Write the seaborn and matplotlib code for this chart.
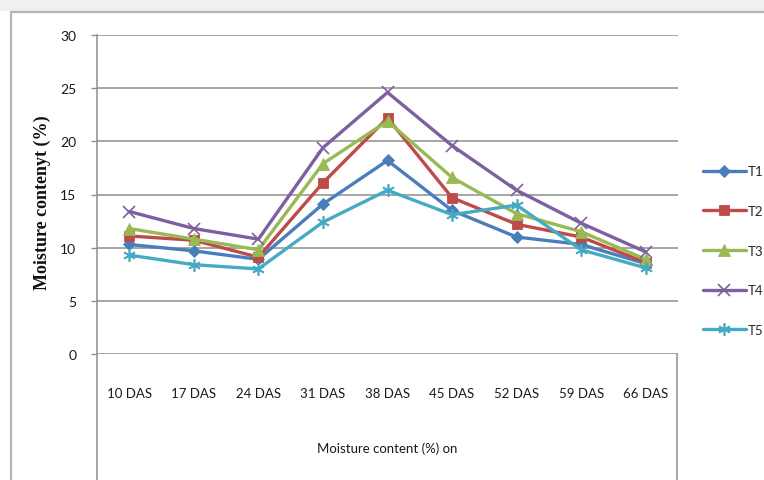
import matplotlib
matplotlib.use("Agg")
import matplotlib.pyplot as plt
from matplotlib.lines import Line2D
from matplotlib.patches import Rectangle
import seaborn as sns
import pandas as pd

# Sampling dates and moisture readings (%) for each treatment
days = ["10 DAS", "17 DAS", "24 DAS", "31 DAS", "38 DAS", "45 DAS", "52 DAS", "59 DAS", "66 DAS"]
t1 = [10.3, 9.7, 8.9, 14.1, 18.2, 13.5, 11.0, 10.3, 8.5]
t2 = [11.1, 10.7, 9.1, 16.1, 22.2, 14.7, 12.2, 11.0, 8.6]
t3 = [11.8, 10.8, 9.8, 17.9, 21.9, 16.6, 13.2, 11.5, 8.9]
t4 = [13.4, 11.8, 10.8, 19.4, 24.6, 19.6, 15.4, 12.3, 9.6]
t5 = [9.3, 8.4, 8.0, 12.4, 15.4, 13.1, 14.0, 9.8, 8.1]
treatments = ["T1", "T2", "T3", "T4", "T5"]
y_ticks = [0, 5, 10, 15, 20, 25, 30]

series = dict(zip(treatments, [t1, t2, t3, t4, t5]))
df = pd.DataFrame(
    [(d, name, v) for name, vals in series.items() for d, v in zip(days, vals)],
    columns=["day", "treatment", "moisture"],
)

colors = {"T1": "#4a7ebb", "T2": "#be4b48", "T3": "#98b954", "T4": "#7d60a0", "T5": "#46aac5"}
markers = {"T1": "D", "T2": "s", "T3": "^", "T4": "x", "T5": (6, 2, 0)}
msizes = {"T1": 6.5, "T2": 7, "T3": 8, "T4": 8, "T5": 9}

sns.set_theme(style="white")
plt.rcParams["font.family"] = ["Lato", "DejaVu Sans"]

W, H = 764, 481
fig = plt.figure(figsize=(W / 100, H / 100), dpi=100, facecolor="white")

# page background strip and outer chart border
fig.patches.append(Rectangle((0, 1 - 12 / H), 1, 12 / H, transform=fig.transFigure,
                             facecolor="#eff0f2", edgecolor="none", zorder=0))
fig.lines.append(Line2D([11 / W, 11 / W], [0, 1 - 13 / H], transform=fig.transFigure,
                        color="#b5b5b5", lw=1.6))
fig.lines.append(Line2D([11 / W, 1], [1 - 13 / H, 1 - 13 / H], transform=fig.transFigure,
                        color="#b5b5b5", lw=1.6))

left, right, top, bottom = 97, 678, 36, 355
ax = fig.add_axes([left / W, 1 - bottom / H, (right - left) / W, (bottom - top) / H])

for name in treatments:
    sub = df[df["treatment"] == name]
    sns.lineplot(data=sub, x="day", y="moisture", ax=ax, color=colors[name],
                 marker=markers[name], markersize=msizes[name], linewidth=2.4,
                 markeredgewidth=1.2 if name in ("T4", "T5") else 0.6,
                 markeredgecolor=colors[name], label=name, sort=False, zorder=3)

ax.set_xlim(-0.5, len(days) - 0.5)
ax.set_ylim(0, 30)
ax.set_yticks(y_ticks)
ax.set_xlabel("")
ax.set_ylabel("")

# gridlines in grey, left axis line only
for y in y_ticks:
    ax.axhline(y, color="#8e8e8e", lw=1.1, zorder=1)
for s in ["top", "right", "bottom"]:
    ax.spines[s].set_visible(False)
ax.spines["left"].set_color("#8e8e8e")
ax.spines["left"].set_linewidth(1.1)

ax.tick_params(axis="y", direction="out", length=4, width=1, color="#8e8e8e",
               pad=11, labelsize=10, labelcolor="#1a1a1a", left=True)
ax.tick_params(axis="x", length=0, pad=24, labelsize=9.5, labelcolor="#1a1a1a")

# frame lines of the category label box under the axis
for xpx in (left, right - 1):
    fig.lines.append(Line2D([xpx / W, xpx / W], [0, 1 - bottom / H], transform=fig.transFigure,
                            color="#8e8e8e", lw=1.1))

fig.text(387 / W, 1 - 449 / H, "Moisture content (%) on", ha="center", va="center",
         fontsize=9.5, color="#1a1a1a")
fig.text(42 / W, 1 - 203 / H, "Moisture contenyt (%)", rotation=90, ha="center", va="center",
         fontsize=13, fontweight="bold", family=["Liberation Serif", "DejaVu Serif"],
         color="#111111")

handles, labels = ax.get_legend_handles_labels()
ax.legend_.remove()
fig.legend(handles, labels, loc="upper left", bbox_to_anchor=(698 / W, 1 - 161 / H),
           frameon=False, fontsize=9.5, handlelength=3.2, handletextpad=0.15,
           labelspacing=2.1, borderaxespad=0)

fig.savefig("out.png", dpi=100, facecolor="white")
